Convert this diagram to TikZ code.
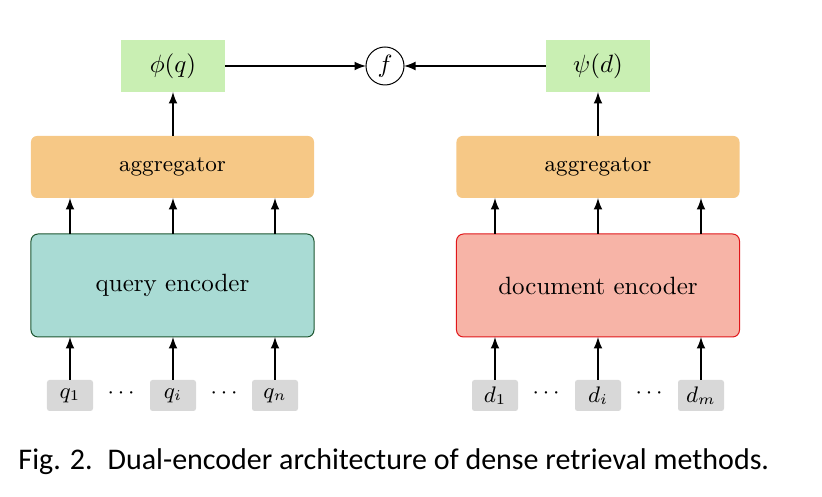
\documentclass[tikz,border=0pt]{standalone}
\usepackage{fontspec}
\newfontfamily\capfont{Carlito}
\usepackage{tikz}
\usetikzlibrary{arrows,shapes}
\usetikzlibrary{positioning}
\definecolor{embgreen}{HTML}{C9EFB3}
\definecolor{aggorange}{HTML}{F6C886}
\definecolor{qencfill}{HTML}{A9DBD4}
\definecolor{qencline}{HTML}{1E5631}
\definecolor{dencfill}{HTML}{F7B4A7}
\definecolor{dencline}{HTML}{E0161A}
\definecolor{tokgray}{HTML}{D8D8D8}
\tikzset{
    embbox/.style={fill=embgreen, minimum width=41.6pt, minimum height=20.8pt, inner sep=0pt, outer sep=0pt},
    simnode/.style={circle, draw=black, line width=0.4pt, minimum size=15.2pt, inner sep=0pt, outer sep=0pt},
    aggbox/.style={fill=aggorange, rounded corners=2.4pt, minimum width=113.2pt, minimum height=24.8pt, inner sep=0pt, outer sep=0pt, font=\small},
    qencbox/.style={fill=qencfill, draw=qencline, line width=0.4pt, rounded corners=2.8pt, minimum width=113.2pt, minimum height=41.2pt, inner sep=0pt, outer sep=0pt},
    dencbox/.style={fill=dencfill, draw=dencline, line width=0.4pt, rounded corners=2.8pt, minimum width=113.2pt, minimum height=41.2pt, inner sep=0pt, outer sep=0pt},
    token/.style={fill=tokgray, rounded corners=1pt, minimum width=18.4pt, minimum height=12.4pt, inner sep=0pt, outer sep=0pt, font=\small},
    dotsnode/.style={inner sep=0pt, font=\small},
    flow/.style={->, line width=0.6pt},
}
\tikzset{>=latex}

\begin{document}
\begin{tikzpicture}[x=0.4pt, y=-0.4pt]
\useasboundingbox (0,0) rectangle (822,497);

%TOP
\node[embbox] (phiq) at (173,66) {$\phi(q)$};
\node[simnode] (sim) at (385,66) {$f$};
\node[embbox] (psid) at (598,66) {$\psi(d)$};
\draw[flow] (phiq) -- (sim);
\draw[flow] (psid) -- (sim);

%QUERY SIDE
\node[aggbox] (qagg) at (172.5,167) {aggregator};
\node[qencbox] (qenc) at (172.5,285.5) {query encoder};
\node[token] (q1) at (70,395.5) {$q_1$};
\node[dotsnode] (qdots1) at (121,393) {$\cdots$};
\node[token] (qi) at (173,395.5) {$q_i$};
\node[dotsnode] (qdots2) at (224,393) {$\cdots$};
\node[token] (qn) at (275,395.5) {$q_n$};
\draw[flow] (q1.north) -- ++(0,-43);
\draw[flow] (qi.north) -- ++(0,-43);
\draw[flow] (qn.north) -- ++(0,-43);
\draw[flow] (qenc.north -| q1) -- (qagg.south -| q1);
\draw[flow] (qenc.north -| qi) -- (qagg.south -| qi);
\draw[flow] (qenc.north -| qn) -- (qagg.south -| qn);
\draw[flow] (qagg.north -| phiq) -- (phiq.south);

%DOCUMENT SIDE
\node[aggbox] (dagg) at (598,167) {aggregator};
\node[dencbox] (denc) at (598,285.5) {document encoder};
\node[token] (d1) at (495,395.5) {$d_1$};
\node[dotsnode] (ddots1) at (546,393) {$\cdots$};
\node[token] (di) at (598,395.5) {$d_i$};
\node[dotsnode] (ddots2) at (649,393) {$\cdots$};
\node[token] (dm) at (701,395.5) {$d_m$};
\draw[flow] (d1.north) -- ++(0,-43);
\draw[flow] (di.north) -- ++(0,-43);
\draw[flow] (dm.north) -- ++(0,-43);
\draw[flow] (denc.north -| d1) -- (dagg.south -| d1);
\draw[flow] (denc.north -| di) -- (dagg.south -| di);
\draw[flow] (denc.north -| dm) -- (dagg.south -| dm);
\draw[flow] (dagg.north -| psid) -- (psid.south);

%CAPTION
\node[anchor=base west, inner sep=0pt, font=\capfont\fontsize{12}{14}\selectfont] (caption) at (18,470)
    {Fig. 2.\enspace Dual-encoder architecture of dense retrieval methods.};
\end{tikzpicture}
\end{document}
